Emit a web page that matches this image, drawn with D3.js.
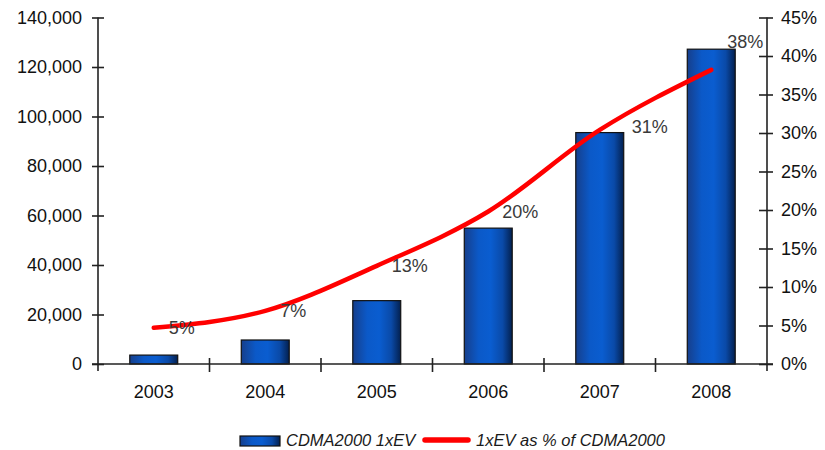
<!DOCTYPE html>
<html>
<head>
<meta charset="utf-8">
<script src="https://cdn.jsdelivr.net/npm/d3@7"></script>
<style>
  html, body { margin: 0; padding: 0; background: #fff; }
  svg { display: block; }
</style>
</head>
<body>
<svg id="chart" width="825" height="450"></svg>
<script>
// ---- data ----
const years = ["2003", "2004", "2005", "2006", "2007", "2008"];
const evSubs = [3600, 9700, 25600, 54900, 93500, 127200];
const evShare = [4.7, 6.9, 12.75, 19.8, 30.4, 38.2];
const shareLabels = ["5%", "7%", "13%", "20%", "31%", "38%"];
const leftTicks = [0, 20000, 40000, 60000, 80000, 100000, 120000, 140000];
const rightTicks = [0, 5, 10, 15, 20, 25, 30, 35, 40, 45];
const seriesNames = ["CDMA2000 1xEV", "1xEV as % of CDMA2000"];

// ---- layout ----
const svg = d3.select("#chart");
const X0 = 98, X1 = 767, Y0 = 364, Y1 = 17.5;
const font = "'Liberation Sans', Arial, sans-serif";

const x = d3.scaleBand().domain(years).range([X0, X1]).paddingInner(0.57).paddingOuter(0.285);
const xc = d3.scaleBand().domain(years).range([X0, X1]);
const yL = d3.scaleLinear().domain([0, 140000]).range([Y0, Y1]);
const yR = d3.scaleLinear().domain([0, 45]).range([Y0, Y1]);

const defs = svg.append("defs");
const grad = defs.append("linearGradient").attr("id", "barGrad")
  .attr("x1", "0%").attr("x2", "100%").attr("y1", "0%").attr("y2", "0%");
[[0, "#163f8c"], [0.3, "#0b59c8"], [0.55, "#0a5dd0"], [0.8, "#0a4aa8"], [1, "#03204f"]]
  .forEach(([o, c]) => grad.append("stop").attr("offset", o).attr("stop-color", c));

// bars
svg.append("g").selectAll("rect").data(years).join("rect")
  .attr("x", (d) => x(d))
  .attr("width", x.bandwidth())
  .attr("y", (d, i) => yL(evSubs[i]))
  .attr("height", (d, i) => Y0 - yL(evSubs[i]))
  .attr("fill", "url(#barGrad)")
  .attr("stroke", "#111")
  .attr("stroke-width", 1.2);

// axes
const axisColor = "#222";
const gL = svg.append("g").attr("transform", `translate(${X0},0)`)
  .call(d3.axisLeft(yL).tickValues(leftTicks).tickFormat(d3.format(",")).tickSize(6).tickPadding(10));
const gR = svg.append("g").attr("transform", `translate(${X1},0)`)
  .call(d3.axisRight(yR).tickValues(rightTicks).tickFormat(d => d + "%").tickSize(6).tickPadding(8));
const gX = svg.append("g").attr("transform", `translate(0,${Y0})`)
  .call(d3.axisBottom(xc).tickSize(0).tickPadding(21));

[gL, gR, gX].forEach(g => {
  g.select(".domain").attr("stroke", axisColor).attr("stroke-width", 1.6);
  g.selectAll(".tick line").attr("stroke", axisColor).attr("stroke-width", 1.6);
  g.selectAll("text").attr("font-family", font).attr("font-size", 18).attr("fill", "#111");
});
gL.select(".domain").attr("d", `M0,${Y0 + 7}V${Y1}`);
gR.select(".domain").attr("d", `M0,${Y0 + 7}V${Y1}`);
gL.selectAll(".tick line").attr("x1", 6).attr("x2", -6);
gR.selectAll(".tick line").attr("x1", -8).attr("x2", 6);
gX.select(".domain").attr("d", `M${X0 - 6},0H${X1 + 6}`);
// category boundary ticks
gX.append("g").selectAll("line").data(years.slice(1)).join("line")
  .attr("x1", d => xc(d)).attr("x2", d => xc(d))
  .attr("y1", -6).attr("y2", 8)
  .attr("stroke", axisColor).attr("stroke-width", 1.6);

// line
const cx = (i) => xc(years[i]) + xc.bandwidth() / 2;
const line = d3.line()
  .x((d, i) => cx(i))
  .y(d => yR(d))
  .curve(d3.curveMonotoneX);
svg.append("path").datum(evShare)
  .attr("d", line)
  .attr("fill", "none")
  .attr("stroke", "#ff0000")
  .attr("stroke-width", 4.5)
  .attr("stroke-linecap", "round");

// data labels
const labelOffset = [[15, 0], [15, 0], [15, 0], [14, 0], [32, -3], [16, -28]];
svg.append("g").selectAll("text").data(shareLabels).join("text")
  .attr("x", (d, i) => cx(i) + labelOffset[i][0])
  .attr("y", (d, i) => yR(evShare[i]) + labelOffset[i][1])
  .attr("dy", "0.35em")
  .attr("font-family", font).attr("font-size", 18).attr("fill", "#3a3a3a")
  .text(d => d);

// legend
const lg = svg.append("g");
lg.append("rect").attr("x", 240).attr("y", 436).attr("width", 40).attr("height", 10)
  .attr("fill", "url(#barGrad)").attr("stroke", "#111").attr("stroke-width", 1.2);
lg.append("text").attr("x", 286).attr("y", 445.5)
  .attr("font-family", font).attr("font-size", 16.5).attr("font-style", "italic").attr("fill", "#1a1a1a")
  .text(seriesNames[0]);
lg.append("line").attr("x1", 425).attr("x2", 468).attr("y1", 440).attr("y2", 440)
  .attr("stroke", "#ff0000").attr("stroke-width", 5.5).attr("stroke-linecap", "round");
lg.append("text").attr("x", 476).attr("y", 445.5)
  .attr("font-family", font).attr("font-size", 16.5).attr("font-style", "italic").attr("fill", "#1a1a1a")
  .text(seriesNames[1]);
</script>
</body>
</html>
